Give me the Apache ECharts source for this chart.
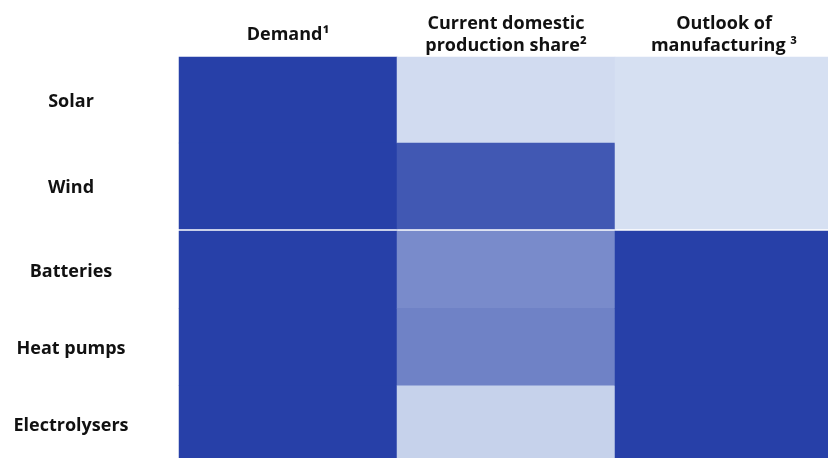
<!DOCTYPE html>
<html>
<head>
<meta charset="utf-8">
<style>
  html, body { margin: 0; padding: 0; background: #ffffff; overflow: hidden; }
  #chart { width: 836px; height: 466px; }
</style>
<script src="https://cdn.jsdelivr.net/npm/echarts@6/dist/echarts.min.js"></script>
</head>
<body>
<div id="chart"></div>
<script>
// Column headers
const columns = ['Demand\u00B9', 'Current domestic\nproduction share\u00B2', 'Outlook of\nmanufacturing \u00B3'];

// Two row groups, separated by a thin white gap
const generationRows = ['Solar', 'Wind'];
const equipmentRows = ['Batteries', 'Heat pumps', 'Electrolysers'];

// Intensity scores (0 = low, 100 = high), one array per column
const demandGeneration = [100, 100];
const shareGeneration = [3, 85];
const outlookGeneration = [0, 0];

const demandEquipment = [100, 100, 100];
const shareEquipment = [53, 59, 9];
const outlookEquipment = [100, 100, 100];

function cells(cols) {
  const out = [];
  cols.forEach((vals, ci) => {
    vals.forEach((v, ri) => out.push([ci, ri, v]));
  });
  return out;
}

const labelFont = { fontFamily: 'Open Sans', fontWeight: 'bold', color: '#111111' };
const rowLabel = {
  align: 'center', margin: 108,
  formatter: (v) => '{r|' + v + '}',
  rich: {
    r: Object.assign({}, labelFont, { fontSize: 18, padding: [4, 0, 0, 0] })
  }
};

const chart = echarts.init(document.getElementById('chart'));
chart.setOption({
  backgroundColor: '#ffffff',
  animation: false,
  grid: [
    { left: 179, width: 654, top: 57, height: 172 },
    { left: 179, width: 654, top: 231, height: 232 }
  ],
  xAxis: [
    {
      type: 'category', gridIndex: 0, data: columns, position: 'top',
      axisLine: { show: false }, axisTick: { show: false }, splitLine: { show: false },
      axisLabel: Object.assign({}, labelFont, {
        fontSize: 18, lineHeight: 22, margin: 22, verticalAlign: 'middle', align: 'center'
      })
    },
    {
      type: 'category', gridIndex: 1, data: columns, show: false
    }
  ],
  yAxis: [
    {
      type: 'category', gridIndex: 0, data: generationRows, inverse: true,
      axisLine: { show: false }, axisTick: { show: false }, splitLine: { show: false },
      axisLabel: rowLabel
    },
    {
      type: 'category', gridIndex: 1, data: equipmentRows, inverse: true,
      axisLine: { show: false }, axisTick: { show: false }, splitLine: { show: false },
      axisLabel: rowLabel
    }
  ],
  visualMap: {
    show: false, min: 0, max: 100, dimension: 2,
    inRange: { color: ['#d6e0f2', '#2740a8'] }
  },
  series: [
    {
      type: 'heatmap', xAxisIndex: 0, yAxisIndex: 0,
      data: cells([demandGeneration, shareGeneration, outlookGeneration]),
      itemStyle: { borderWidth: 0 }
    },
    {
      type: 'heatmap', xAxisIndex: 1, yAxisIndex: 1,
      data: cells([demandEquipment, shareEquipment, outlookEquipment]),
      itemStyle: { borderWidth: 0 }
    }
  ]
});
</script>
</body>
</html>
